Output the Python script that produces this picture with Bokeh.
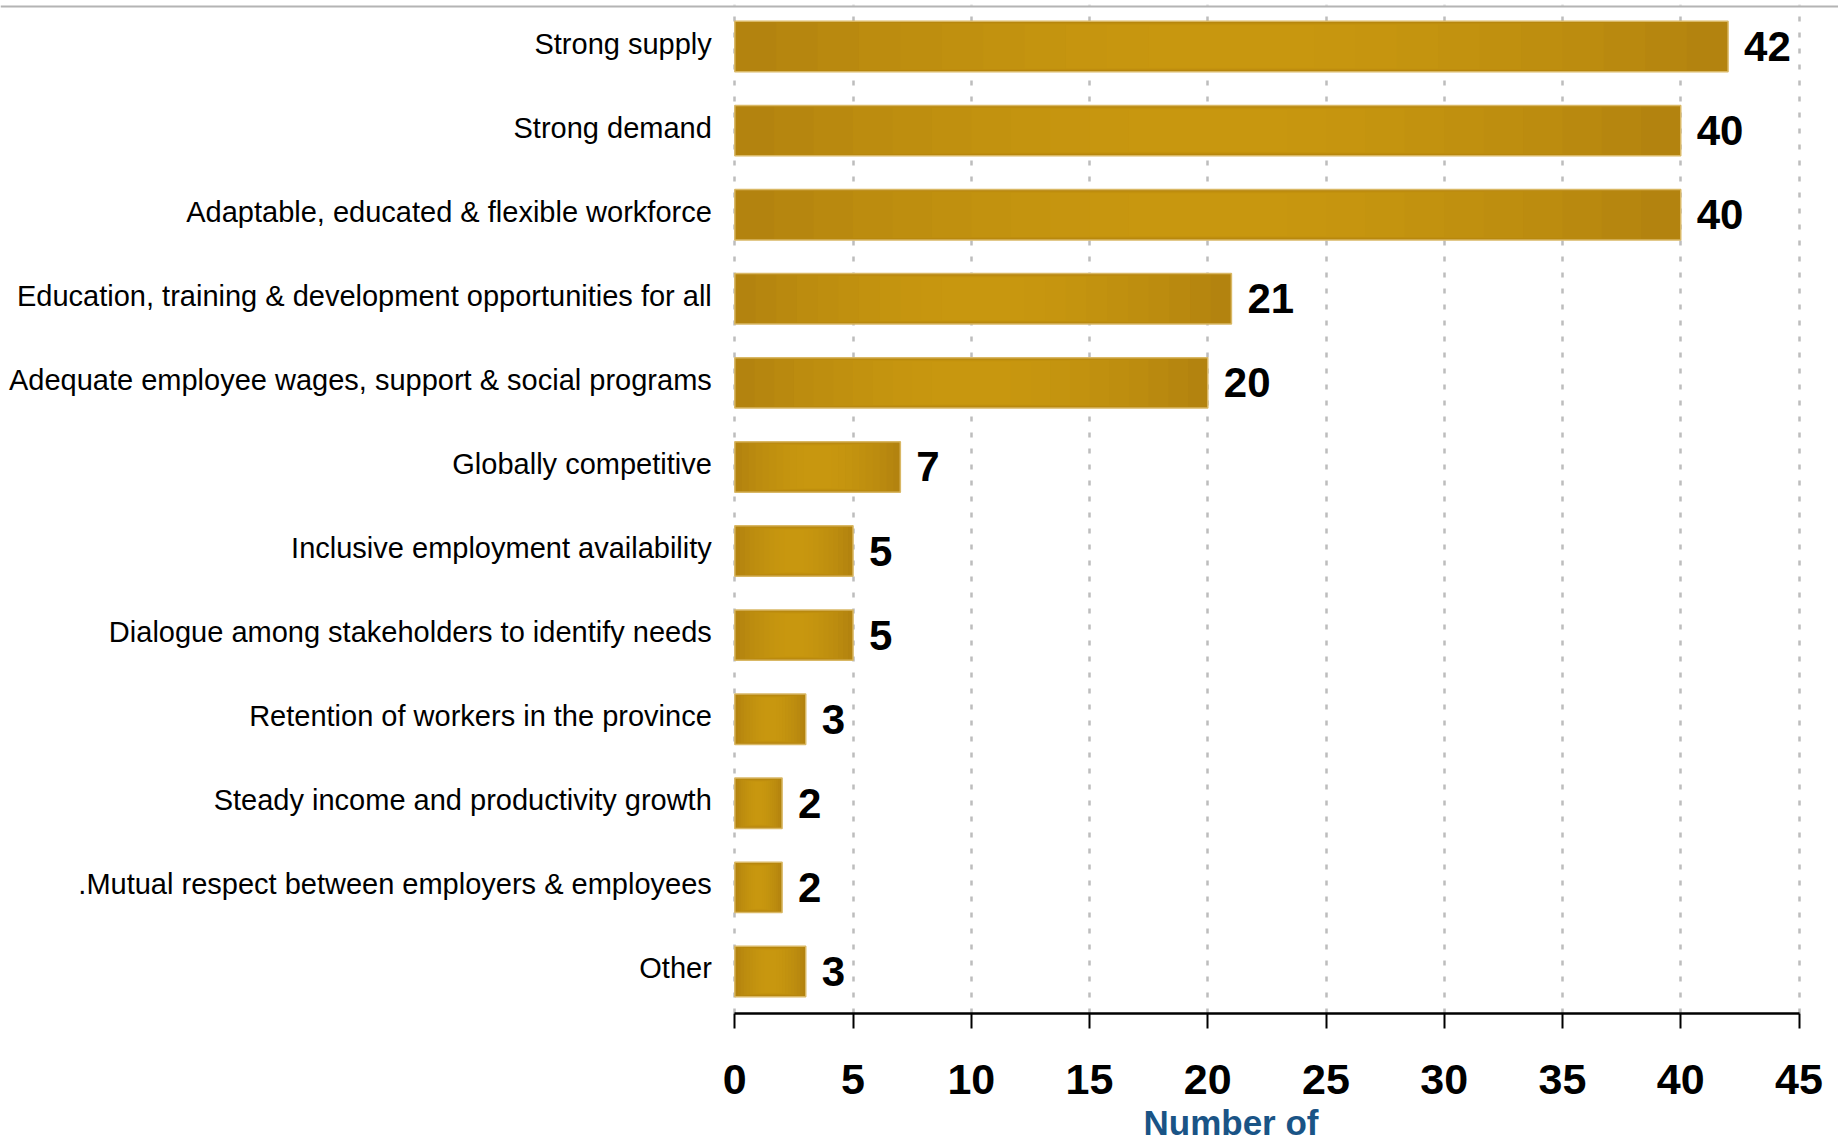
from bokeh.plotting import figure
from bokeh.models import ColumnDataSource, FactorRange, Range1d, FixedTicker, Span, Title
from bokeh.core.properties import value
from bokeh.embed import file_html
from bokeh.resources import INLINE

categories = [
    "Strong supply",
    "Strong demand",
    "Adaptable, educated & flexible workforce",
    "Education, training & development opportunities for all",
    "Adequate employee wages, support & social programs",
    "Globally competitive",
    "Inclusive employment availability",
    "Dialogue among stakeholders to identify needs",
    "Retention of workers in the province",
    "Steady income and productivity growth",
    ".Mutual respect between employers & employees",
    "Other",
]
values = [42, 40, 40, 21, 20, 7, 5, 5, 3, 2, 2, 3]
x_ticks = [0, 5, 10, 15, 20, 25, 30, 35, 40, 45]
x_title = "Number of"

FONT = "Liberation Sans"

src = ColumnDataSource(dict(cat=categories, v=values, lbl=[str(v) for v in values],
                            zero=[0] * len(values)))

p = figure(width=1838, height=1148, output_backend="svg", toolbar_location=None,
           x_range=Range1d(-31.05, 46.67),
           y_range=FactorRange(factors=categories[::-1], range_padding=0),
           y_axis_location=None,
           min_border_left=0, min_border_right=0, min_border_top=4, min_border_bottom=135,
           outline_line_color=None, background_fill_color="white", border_fill_color="white")

# grid
p.ygrid.visible = False
p.xaxis.ticker = FixedTicker(ticks=x_ticks)
p.xgrid.grid_line_color = "#BDBDBD"
p.xgrid.grid_line_width = 2.5
p.xgrid.grid_line_dash = "5 11"

# x axis
ax = p.xaxis[0]
ax.bounds = (0, 45)
ax.axis_line_color = "black"
ax.axis_line_width = 2.5
ax.major_tick_line_color = "black"
ax.major_tick_line_width = 2
ax.major_tick_out = 15
ax.major_tick_in = 0
ax.minor_tick_line_color = None
ax.major_label_standoff = 36
ax.major_label_text_font = FONT
ax.major_label_text_font_style = "bold"
ax.major_label_text_font_size = "43px"
ax.major_label_text_color = "black"

# bars: base + light layers to suggest the gradient
p.hbar(y="cat", left="zero", right="v", height=0.6, source=src,
       fill_color="#B3830F", line_color=None)
n_layers = 10
for i in range(1, n_layers + 1):
    f = i / 24.0
    lay = ColumnDataSource(dict(cat=categories,
                                l=[v * f for v in values],
                                r=[v * (1 - f) for v in values]))
    p.hbar(y="cat", left="l", right="r", height=0.585 - 0.008 * i, source=lay,
           fill_color="#DCA818", fill_alpha=0.1, line_color=None)
p.hbar(y="cat", left="zero", right="v", height=0.6, source=src,
       fill_color=None, line_color="#D9B865", line_width=1.5)

# category labels
p.text(x="zero", y="cat", text="cat", source=src, x_offset=-23, y_offset=-3,
       text_align="right", text_baseline="middle",
       text_font=value(FONT), text_font_size="29px", text_color="black")

# value labels
p.text(x="v", y="cat", text="lbl", source=src, x_offset=16,
       text_align="left", text_baseline="middle",
       text_font=value(FONT), text_font_style="bold", text_font_size="42px",
       text_color="black")

# top rule
p.add_layout(Span(location=11.976, dimension="width", line_color="#B4B4B4", line_width=2))

# axis title (placed under the axis, left-aligned with an offset)
p.add_layout(Title(text=x_title, align="left", offset=1143, standoff=8,
                   text_font=FONT, text_font_style="bold", text_font_size="35px",
                   text_color="#1A5486"), "below")

open("out.html", "w").write(file_html(p, INLINE))
